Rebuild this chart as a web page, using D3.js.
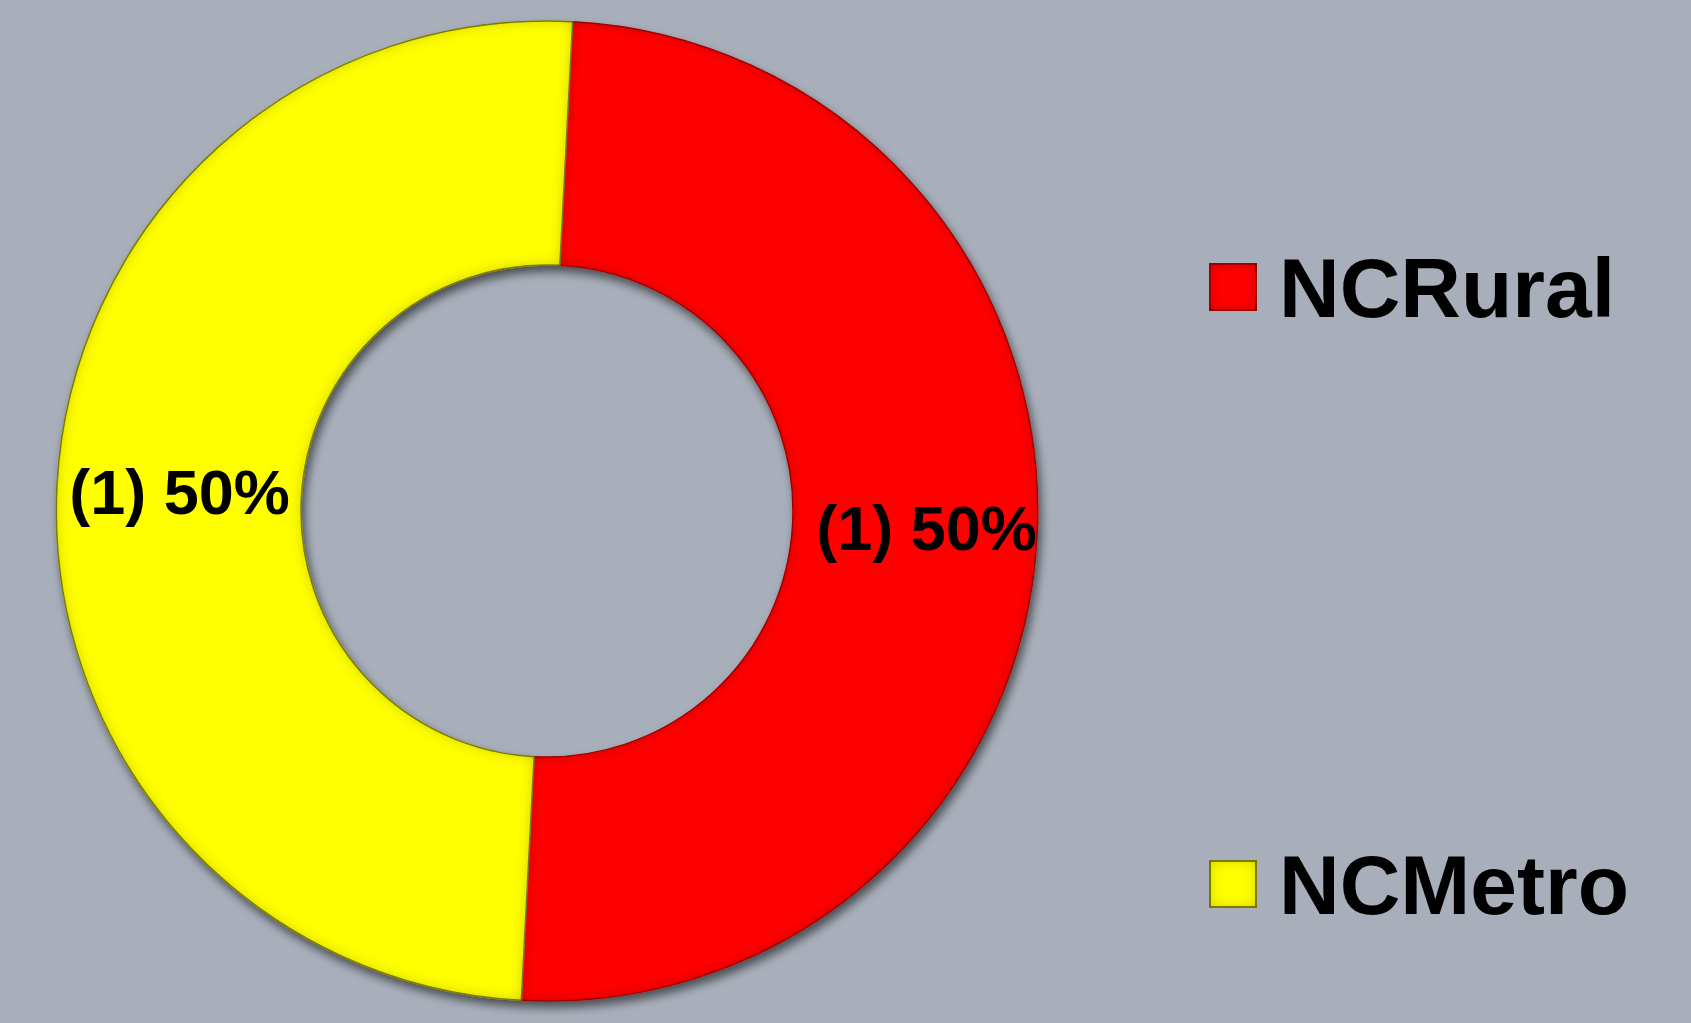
<!DOCTYPE html>
<html><head><meta charset="utf-8">
<script src="https://cdn.jsdelivr.net/npm/d3@7"></script>
<style>
html,body{margin:0;padding:0;background:#a8afba;}
svg{display:block;}
text{font-family:"Liberation Sans",Arial,sans-serif;font-weight:bold;fill:#000;}
</style></head>
<body>
<svg id="chart" width="1691" height="1023"></svg>
<script>
const categories = ["NCRural", "NCMetro"];
const values = [1, 1];
const labels = ["(1) 50%", "(1) 50%"];
const colors = ["#ff0000", "#ffff00"];
const edgeColors = ["#b00000", "#8a8a00"];

const W = 1691, H = 1023;
const svg = d3.select("#chart");
svg.append("rect").attr("width", W).attr("height", H).attr("fill", "#a8afba");

const defs = svg.append("defs");
const sh = defs.append("filter").attr("id", "shadow").attr("x", "-10%").attr("y", "-10%").attr("width", "130%").attr("height", "130%");
sh.append("feDropShadow").attr("dx", 3).attr("dy", 6).attr("stdDeviation", 5).attr("flood-color", "#000").attr("flood-opacity", 0.55);

// bevel filter: inner darkened edge
const bev = defs.append("filter").attr("id", "bevel").attr("x", "-5%").attr("y", "-5%").attr("width", "110%").attr("height", "110%");
bev.append("feGaussianBlur").attr("in", "SourceAlpha").attr("stdDeviation", 7).attr("result", "blur");
bev.append("feComposite").attr("in", "SourceAlpha").attr("in2", "blur").attr("operator", "arithmetic")
  .attr("k1", 0).attr("k2", 1).attr("k3", -1).attr("k4", 0).attr("result", "edge");
bev.append("feFlood").attr("flood-color", "#000").attr("flood-opacity", 0.45).attr("result", "dark");
bev.append("feComposite").attr("in", "dark").attr("in2", "edge").attr("operator", "in").attr("result", "edgeDark");
const m = bev.append("feMerge");
m.append("feMergeNode").attr("in", "SourceGraphic");
m.append("feMergeNode").attr("in", "edgeDark");

const cx = 547, cy = 511, rOuter = 490, rInner = 246;
const start = 3 * Math.PI / 180;
const pie = d3.pie().sort(null).value(d => d).startAngle(start).endAngle(start + 2 * Math.PI);
const arcs = pie(values);
const arc = d3.arc().innerRadius(rInner).outerRadius(rOuter);
const labelArc = d3.arc().innerRadius(rInner + 12).outerRadius(rOuter + 12);

const g = svg.append("g").attr("transform", `translate(${cx},${cy})`);
const ring = g.append("g").attr("filter", "url(#shadow)");
ring.selectAll("path").data(arcs).join("path")
  .attr("d", arc)
  .attr("fill", (d, i) => colors[i])
  .attr("stroke", (d, i) => edgeColors[i])
  .attr("stroke-width", 1.5)
  .attr("filter", "url(#bevel)");

g.selectAll("text.lbl").data(arcs).join("text")
  .attr("class", "lbl")
  .attr("transform", (d, i) => { const c = (i === 0 ? labelArc : arc).centroid(d); return `translate(${c[0]},${c[1] - (i === 0 ? 4 : 0)})`; })
  .attr("text-anchor", "middle")
  .attr("dy", "0.36em")
  .attr("font-size", 63)
  .text((d, i) => labels[i]);

// legend
const legY = d3.scalePoint().domain(categories).range([287, 884]);
const leg = svg.append("g");
const items = leg.selectAll("g").data(categories).join("g")
  .attr("transform", d => `translate(1210,${legY(d)})`);
items.append("rect").attr("x", 0).attr("y", -23).attr("width", 46).attr("height", 46)
  .attr("fill", (d, i) => colors[i]).attr("stroke", (d, i) => edgeColors[i]).attr("stroke-width", 2)
  .attr("filter", "url(#bevel)");
items.append("text").attr("x", 69).attr("y", 0).attr("dy", "0.36em")
  .attr("font-size", 84).text(d => d);
</script>
</body></html>
